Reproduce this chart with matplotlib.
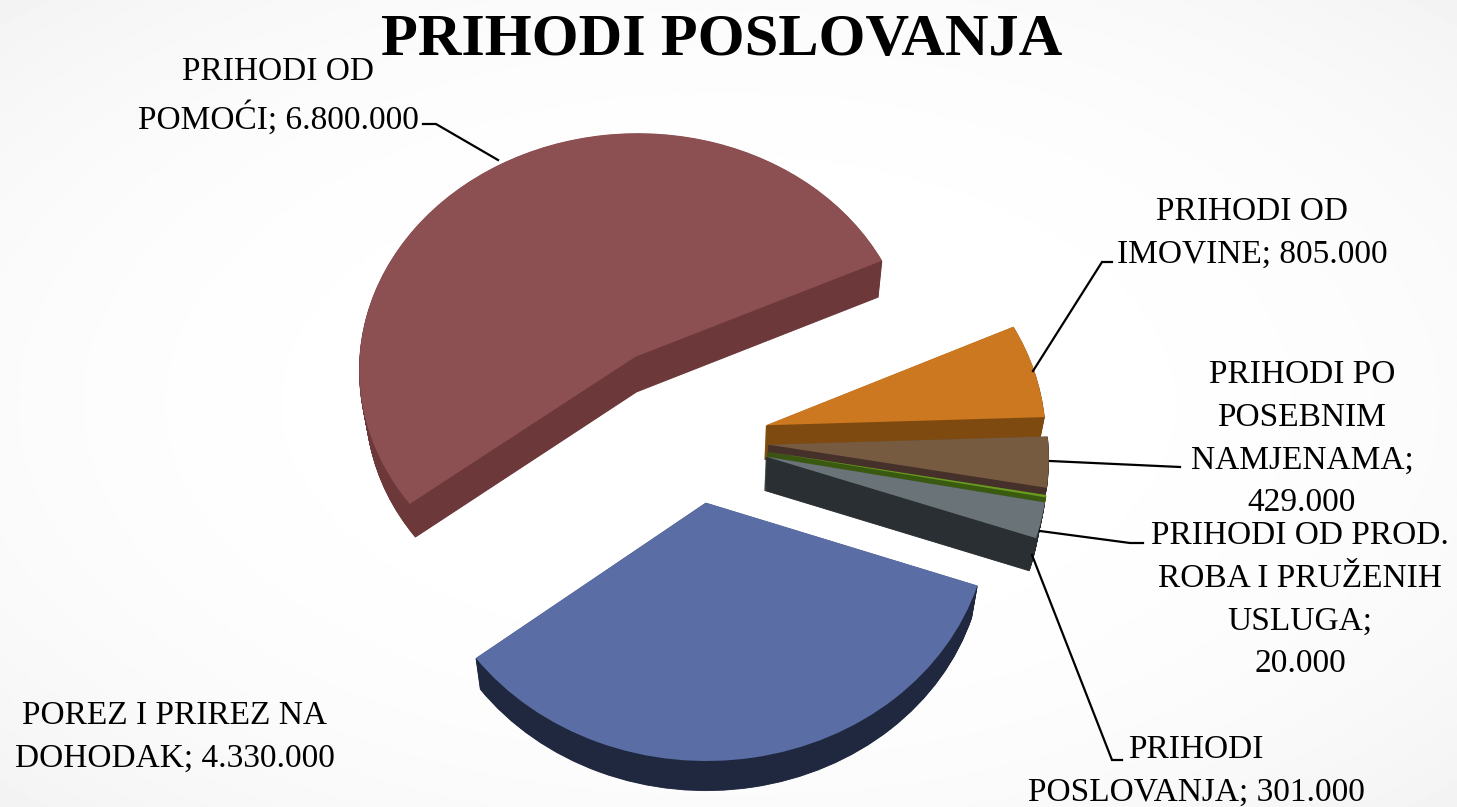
import numpy as np
import matplotlib
matplotlib.use("Agg")
import matplotlib.pyplot as plt
from matplotlib.patches import Wedge
from matplotlib.transforms import Transform

# ---- data ----
categories = ["PRIHODI OD\nIMOVINE", "PRIHODI PO\nPOSEBNIM\nNAMJENAMA",
              "PRIHODI OD PROD.\nROBA I PRUŽENIH\nUSLUGA", "PRIHODI\nPOSLOVANJA",
              "POREZ I PRIREZ NA\nDOHODAK", "PRIHODI OD\nPOMOĆI"]
values = [805000, 429000, 20000, 301000, 4330000, 6800000]
value_labels = ["805.000", "429.000", "20.000", "301.000", "4.330.000", "6.800.000"]
explode = [0.265, 0.265, 0.265, 0.265, 0.26, 0.41]
top_colors = ["#cc7820", "#775b40", "#6a9a20", "#6a7478", "#5a6da5", "#8d5052"]
wall_colors = ["#7f4a10", "#46302a", "#3a5a10", "#2a2f33", "#20283f", "#6c383a"]
draw_order = [5, 0, 1, 2, 3, 4]
label_xy = [(1252, 233), (1302, 439), (1300, 600), (1196, 771), (175, 737), (278, 96)]
label_sep = ["; ", ";\n", ";\n", "; ", "; ", "; "]
leaders = [
    [(1112, 262), (1102, 262), (1033, 371)],
    [(1180, 467), (1050, 461)],
    [(1143, 543), (1130, 543), (1040, 531)],
    [(1122, 760), (1112, 760), (1032, 555)],
    [],
    [(423, 124), (436, 124), (498, 160)],
]
title = "PRIHODI POSLOVANJA"

plt.rcParams['font.family'] = ['Liberation Serif', 'DejaVu Serif']


class PieProjection(Transform):
    """Tilted pie plane -> picture pixels, with slight perspective and depth."""
    input_dims = 2
    output_dims = 2
    has_inverse = False

    def __init__(self, layer=0.0, cx=694.0, cy=440.0, rx=280.0, ry=241.0, k=0.045, h=34.0, taper=0.02):
        super().__init__()
        self.layer, self.cx, self.cy, self.rx, self.ry, self.k, self.h, self.taper = layer, cx, cy, rx, ry, k, h, taper

    def transform_non_affine(self, xy):
        xy = np.asarray(xy, dtype=float)
        u, v = xy[:, 0], xy[:, 1]
        w = 1 + self.k * v
        s = 1 - self.taper * self.layer
        x = self.cx + self.rx * u / w * s
        y = self.cy - self.ry * v / w * s + self.h * self.layer / w
        return np.column_stack([x, y])


fig = plt.figure(figsize=(14.57, 8.07), dpi=100)
ax = fig.add_axes([0, 0, 1, 1])

wedges, _ = ax.pie(values, explode=explode, startangle=24.8, counterclock=False, radius=1.0)
ax.set_aspect('auto')
ax.set_xlim(0, 1457)
ax.set_ylim(807, 0)
ax.set_axis_off()

# soft vignette background
yy, xx = np.mgrid[0:1:400j, 0:1:720j]
rr = np.clip(np.hypot((xx - 0.5) / 0.72, (yy - 0.5) / 0.72), 0, 1)
shade = 1 - 0.05 * rr ** 3
ax.imshow(shade, extent=(0, 1457, 807, 0), cmap='gray', vmin=0, vmax=1, aspect='auto', zorder=0)

for rank, i in enumerate(draw_order):
    w = wedges[i]
    base = 10 + rank * 2
    for d in np.linspace(1, 0, 45)[:-1]:
        wall = Wedge(w.center, w.r, w.theta1, w.theta2, facecolor=wall_colors[i], edgecolor=wall_colors[i], lw=0.6,
                     transform=PieProjection(layer=d) + ax.transData, zorder=base)
        ax.add_patch(wall)
    w.set_facecolor(top_colors[i])
    w.set_edgecolor('none')
    w.set_transform(PieProjection() + ax.transData)
    w.set_zorder(base + 1)

for pts in leaders:
    if pts:
        xs, ys = zip(*pts)
        ax.plot(xs, ys, color='black', lw=1.6, zorder=40, solid_joinstyle='miter')

for cat, vl, sep, (x, y) in zip(categories, value_labels, label_sep, label_xy):
    ax.text(x, y, f"{cat}{sep}{vl}", ha='center', va='center', fontsize=24,
            linespacing=1.52, color='black', zorder=50)

ax.text(722, 41, title, ha='center', va='center', fontsize=43.5, fontweight='bold', color='black', zorder=50)

fig.savefig("out.png", dpi=100)
